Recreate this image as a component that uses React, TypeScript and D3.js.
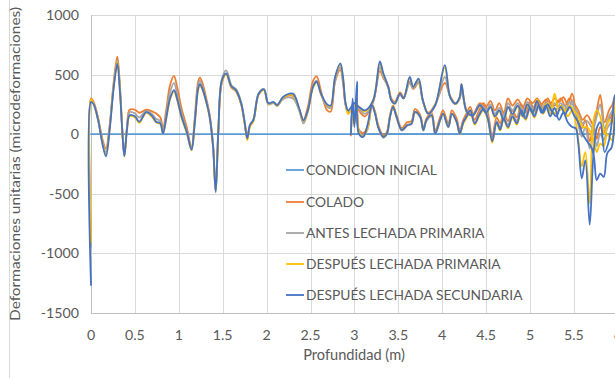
import React from 'react'
import * as d3 from 'd3'

// Profundidad (m) - ida: de 0 a 6 m
const DEPTH_IDA = [
  0, 0, 0.03, 0.08, 0.13, 0.17, 0.21, 0.26, 0.3, 0.33,
  0.36, 0.38, 0.41, 0.44, 0.5, 0.55, 0.63, 0.7, 0.74, 0.79,
  0.82, 0.86, 0.9, 0.945, 0.98, 1.03, 1.09, 1.145, 1.18, 1.22,
  1.24, 1.27, 1.31, 1.35, 1.39, 1.42, 1.45, 1.49, 1.54, 1.6,
  1.65, 1.71, 1.75, 1.78, 1.81, 1.85, 1.91, 1.97, 2.02, 2.08,
  2.12, 2.19, 2.3, 2.37, 2.42, 2.47, 2.53, 2.57, 2.62, 2.69,
  2.73, 2.78, 2.84, 2.87, 2.9, 2.93, 3.0, 3.05, 3.12, 3.215,
  3.29, 3.33, 3.386, 3.42, 3.46, 3.52, 3.56, 3.63, 3.67, 3.73,
  3.78, 3.84, 3.92, 4.03, 4.09, 4.15, 4.2, 4.22, 4.28, 4.35,
  4.43, 4.5, 4.55, 4.6, 4.65, 4.7, 4.75, 4.8, 4.86, 4.92,
  4.97, 5.03, 5.08, 5.13, 5.18, 5.23, 5.28, 5.33, 5.38, 5.43,
  5.48, 5.52, 5.55, 5.59, 5.63, 5.68, 5.72, 5.76, 5.8, 5.85,
  5.9, 5.94, 5.97, 6.0,
]
const COLADO_IDA = [
  -930, 300, 270, 140, -40, -120, 60, 450, 650, 400,
  0, -175, 60, 205, 205, 180, 205, 190, 175, 140,
  50, 220, 410, 490, 400, 220, 60, -110, 120, 440,
  475, 430, 310, 170, -90, -470, 30, 430, 505, 390,
  360, 250, 90, -30, 70, 115, 335, 370, 255, 265,
  240, 305, 320, 210, 120, 230, 450, 485, 360, 200,
  190, 440, 540, 430, 240, 180, 260, 200, 150, 270,
  530, 470, 400, 300, 270, 350, 310, 440, 380, 430,
  280, 180, 250, 430, 320, 260, 300, 400, 200, 170,
  260, 230, 280, 200, 260, 180, 300, 240, 290, 230,
  300, 260, 300, 250, 290, 250, 300, 270, 310, 250,
  340, 200, 100, 50, 120, -60, 80, 200, 330, 100,
  200, 250, 320, 300,
]
const ANTES_IDA = [
  -950, 290, 260, 130, -60, -150, 40, 420, 620, 380,
  -10, -180, 50, 185, 175, 140, 195, 165, 130, 110,
  20, 180, 350, 430, 340, 180, 30, -120, 100, 410,
  450, 400, 290, 160, -95, -490, 25, 460, 535, 410,
  380, 270, 105, -30, 80, 125, 345, 380, 250, 260,
  235, 295, 300, 200, 90, 190, 410, 450, 330, 230,
  220, 450, 560, 450, 250, 190, 250, 220, 170, 280,
  560, 480, 390, 290, 260, 330, 300, 430, 385, 440,
  275, 170, 240, 480, 310, 250, 300, 390, 190, 165,
  250, 200, 250, 170, 220, 150, 260, 200, 260, 190,
  270, 220, 270, 220, 260, 200, 260, 220, 250, 200,
  280, 180, 80, -20, 60, -120, 20, 150, 250, 50,
  150, 200, 300, 280,
]
const DESP_PRIM_IDA = [
  -900, 290, 255, 120, -70, -170, 30, 410, 600, 360,
  -20, -185, 40, 150, 140, 95, 180, 140, 100, 85,
  5, 140, 290, 360, 290, 140, 10, -135, 70, 370,
  410, 370, 275, 145, -105, -480, 15, 440, 500, 395,
  365, 255, 90, -50, 60, 110, 335, 370, 255, 265,
  240, 310, 330, 215, 110, 195, 395, 435, 335, 245,
  235, 470, 580, 470, 255, 170, 240, 230, 190, 290,
  590, 500, 395, 285, 255, 340, 300, 470, 395, 460,
  285, 175, 245, 560, 315, 255, 310, 420, 185, 155,
  240, 175, 225, 140, 195, 110, 225, 165, 230, 145,
  245, 175, 290, 200, 250, 170, 340, 200, 220, 150,
  200, 100, -50, -270, -150, -580, 100, 200, 150, 0,
  120, 100, 280, 280,
]
const DESP_SEC_IDA = [
  -1265, 270, 250, 120, -80, -185, 20, 400, 590, 350,
  -20, -185, 40, 160, 150, 105, 185, 150, 105, 90,
  5, 150, 300, 370, 300, 150, 20, -130, 80, 380,
  420, 380, 280, 150, -100, -480, 20, 450, 510, 400,
  370, 260, 100, -35, 75, 120, 340, 375, 260, 270,
  245, 315, 340, 220, 115, 200, 400, 440, 340, 250,
  240, 480, 595, 480, 260, 200, 260, 230, 200, 285,
  610, 509, 397, 285, 257, 341, 300, 481, 397, 467,
  285, 173, 243, 579, 313, 257, 313, 420, 187, 159,
  243, 180, 230, 150, 200, 120, 230, 170, 240, 150,
  250, 180, 280, 180, 240, 150, 220, 120, 180, 100,
  60, 50, -80, -370, -220, -760, -200, 50, 100, -150,
  -50, 150, 330, 300,
]

// Profundidad (m) - vuelta: de 2.96 a 6 m
const DEPTH_VUELTA = [
  2.96, 2.98, 3.0, 3.03, 3.05, 3.1, 3.15, 3.2, 3.235, 3.27,
  3.33, 3.37, 3.405, 3.44, 3.48, 3.54, 3.6, 3.65, 3.69, 3.75,
  3.785, 3.82, 3.88, 3.92, 3.975, 4.01, 4.07, 4.11, 4.165, 4.2,
  4.24, 4.28, 4.32, 4.37, 4.42, 4.47, 4.52, 4.57, 4.62, 4.66,
  4.7, 4.75, 4.8, 4.85, 4.9, 4.95, 5.0, 5.05, 5.1, 5.15,
  5.2, 5.25, 5.3, 5.35, 5.4, 5.45, 5.5, 5.55, 5.6, 5.65,
  5.7, 5.73, 5.76, 5.8, 5.84, 5.88, 5.93, 5.97, 6.0,
]
const COLADO_VUELTA = [
  -10, 250, 120, 200, 40, 10, 60, 250, 190, 80,
  -10, 20, 160, 240, 160, 50, 100, 110, 210, 160,
  50, 130, 180, 30, 140, 200, 90, 200, 130, 30,
  120, 180, 230, 120, 200, 260, 180, -20, 140, 90,
  180, 110, 200, 140, 250, 180, 270, 200, 280, 220,
  300, 240, 250, 300, 240, 300, 260, 200, 120, 160,
  100, 60, -40, 60, 10, 90, 160, 260, 300,
]
const ANTES_VUELTA = [
  0, 220, 100, 180, 30, -10, 40, 230, 180, 60,
  -30, 0, 140, 225, 140, 30, 70, 85, 180, 140,
  30, 110, 150, 0, 110, 170, 60, 170, 100, 10,
  100, 150, 200, 90, 170, 230, 150, -40, 110, 60,
  140, 80, 170, 110, 220, 150, 240, 170, 250, 190,
  270, 220, 210, 260, 200, 270, 230, 170, 90, 110,
  60, 10, -100, 0, -50, 50, 110, 220, 280,
]
const DESP_PRIM_VUELTA = [
  10, 200, 80, 300, 20, -20, 50, 240, 175, 65,
  -25, 5, 145, 230, 145, 35, 75, 90, 185, 145,
  35, 115, 160, 10, 115, 175, 60, 175, 100, 0,
  90, 140, 190, 80, 150, 200, 120, -70, 90, 30,
  120, 50, 140, 80, 190, 120, 210, 140, 230, 170,
  260, 200, 170, 240, 180, 240, 200, 150, 60, 60,
  0, -60, -150, -80, -100, 0, -50, 200, 280,
]
const DESP_SEC_VUELTA = [
  0, 300, 60, 440, 5, -23, 80, 243, 173, 61,
  -23, 5, 145, 229, 145, 34, 75, 89, 187, 145,
  34, 117, 159, 5, 117, 173, 61, 173, 103, 5,
  100, 150, 200, 90, 160, 210, 130, -60, 100, 40,
  130, 60, 150, 90, 200, 130, 220, 150, 240, 180,
  250, 190, 150, 230, 170, 230, 160, 100, 0, -60,
  -110, -200, -386, -330, -358, -160, -110, 150, 300,
]

// Condición inicial: cero a lo largo de ida y vuelta
const DEPTH_INICIAL_IDA = [0, 6]
const INICIAL_IDA = [0, 0]
const DEPTH_INICIAL_VUELTA = [2.96, 6]
const INICIAL_VUELTA = [0, 0]

const X_TICKS = [0, 0.5, 1, 1.5, 2, 2.5, 3, 3.5, 4, 4.5, 5, 5.5, 6]
const Y_TICKS = [-1500, -1000, -500, 0, 500, 1000]

const SERIES = [
  { name: 'CONDICION INICIAL', color: '#5B9BD5', passes: [[DEPTH_INICIAL_IDA, INICIAL_IDA], [DEPTH_INICIAL_VUELTA, INICIAL_VUELTA]] },
  { name: 'COLADO', color: '#ED7D31', passes: [[DEPTH_IDA, COLADO_IDA], [DEPTH_VUELTA, COLADO_VUELTA]] },
  { name: 'ANTES LECHADA PRIMARIA', color: '#A5A5A5', passes: [[DEPTH_IDA, ANTES_IDA], [DEPTH_VUELTA, ANTES_VUELTA]] },
  { name: 'DESPUÉS LECHADA PRIMARIA', color: '#FFC000', passes: [[DEPTH_IDA, DESP_PRIM_IDA], [DEPTH_VUELTA, DESP_PRIM_VUELTA]] },
  { name: 'DESPUÉS LECHADA SECUNDARIA', color: '#4472C4', passes: [[DEPTH_IDA, DESP_SEC_IDA], [DEPTH_VUELTA, DESP_SEC_VUELTA]] },
]

const W = 615
const H = 378
const margin = { top: 15, left: 91, bottom: 313, right: 617.8 }
const FONT = 'Lato, "Open Sans", sans-serif'
const TEXT = '#595959'

export default function App() {
  const x = d3.scaleLinear().domain([0, 6]).range([margin.left, margin.right])
  const y = d3.scaleLinear().domain([-1500, 1000]).range([margin.bottom, margin.top])

  const line = d3.line<[number, number]>()
    .x(d => x(d[0]))
    .y(d => y(d[1]))
    .curve(d3.curveCatmullRom.alpha(0.5))

  const legendY = [170, 202, 233, 264, 295]

  return (
    <svg width={W} height={H} style={{ position: 'absolute', left: 0, top: 0, background: '#fff' }} fontFamily={FONT}>
      <rect x={0} y={0} width={W} height={H} fill="#fff" />
      {/* borde del área del gráfico */}
      <line x1={9.5} x2={9.5} y1={0} y2={H} stroke="#D9D9D9" />

      {/* grid */}
      {Y_TICKS.map(t => (
        <line key={'gy' + t} x1={margin.left} x2={W} y1={Math.round(y(t)) + 0.5} y2={Math.round(y(t)) + 0.5}
          stroke={t === -1500 ? '#BFBFBF' : '#D9D9D9'} />
      ))}
      {X_TICKS.map(t => (
        <line key={'gx' + t} x1={Math.round(x(t)) + 0.5} x2={Math.round(x(t)) + 0.5} y1={margin.top} y2={margin.bottom}
          stroke={t === 0 ? '#BFBFBF' : '#D9D9D9'} />
      ))}

      {/* series */}
      {SERIES.map(s => (
        <g key={s.name}>
          {s.passes.map((p, i) => {
            const pts = p[0].map((d, j) => [d, p[1][j]] as [number, number])
            return <path key={i} d={line(pts) || ''} fill="none" stroke={s.color} strokeWidth={1.8}
              strokeLinejoin="round" strokeLinecap="round" />
          })}
        </g>
      ))}

      {/* ticks */}
      {Y_TICKS.map(t => (
        <text key={'ty' + t} x={79} y={y(t)} dy="0.35em" textAnchor="end" fontSize={14.2} fill={TEXT}>{t}</text>
      ))}
      {X_TICKS.map(t => (
        <text key={'tx' + t} x={x(t)} y={335} dy="0.35em" textAnchor="middle" fontSize={14.2} fill={TEXT}>{t}</text>
      ))}

      {/* títulos de ejes */}
      <text x={354} y={355} dy="0.35em" textAnchor="middle" fontSize={14.6} fill={TEXT}>Profundidad (m)</text>
      <text transform={`translate(15,${(margin.top + margin.bottom) / 2}) rotate(-90)`} dy="0.35em" textAnchor="middle"
        fontSize={14} fill={TEXT} textLength={314} lengthAdjust="spacingAndGlyphs">Deformaciones unitarias (microdeformaciones)</text>

      {/* leyenda */}
      {SERIES.map((s, i) => (
        <g key={'lg' + s.name}>
          <line x1={286} x2={304} y1={legendY[i]} y2={legendY[i]} stroke={s.color} strokeWidth={1.8} />
          <text x={306} y={legendY[i]} dy="0.35em" fontSize={13.8} fill={TEXT}>{s.name}</text>
        </g>
      ))}
    </svg>
  )
}
